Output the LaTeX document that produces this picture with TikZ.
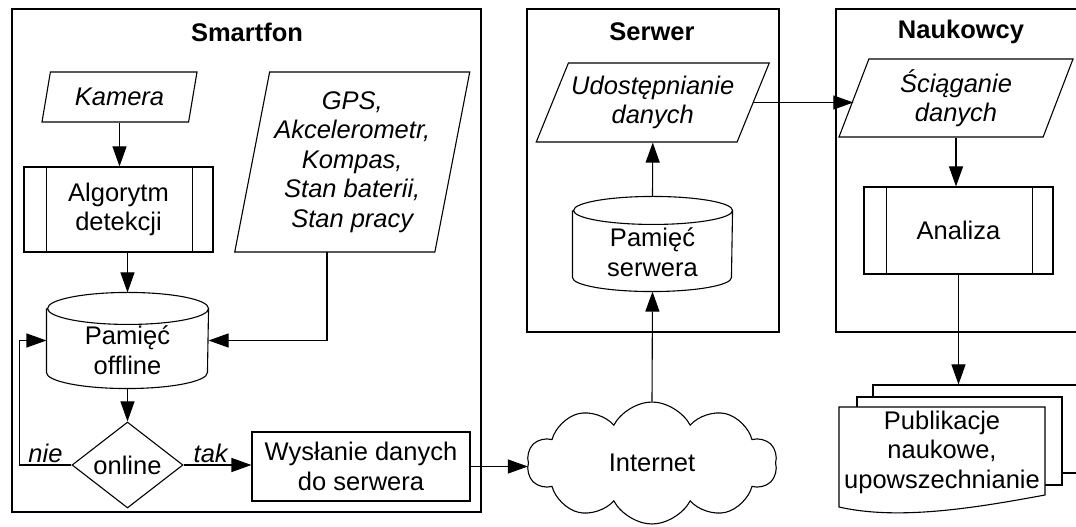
\documentclass[tikz,border=0pt]{standalone}
\usepackage{fontspec}
\setmainfont{Liberation Sans}
\usetikzlibrary{arrows.meta,shapes.geometric,shapes.symbols,calc}
\tikzset{
    frame/.style =  {draw=black,
                    line width=1.1pt},
    title/.style =  {font=\bfseries,
                    text=black},
    io/.style =     {trapezium,
                    trapezium stretches body,
                    fill=white,
                    draw=black,
                    text=black,
                    font=\itshape,
                    align=center,
                    inner sep=1pt},
    proc/.style =   {rectangle,
                    fill=white,
                    draw=black,
                    text=black,
                    align=center},
    store/.style =  {rectangle,
                    inner sep=0pt},
    decide/.style = {diamond,
                    aspect=1.3,
                    fill=white,
                    draw=black,
                    inner sep=0pt,
                    minimum width=111pt,
                    minimum height=86pt},
    net/.style =    {cloud,
                    cloud puffs=10,
                    cloud puff arc=125,
                    aspect=2,
                    fill=white,
                    draw=black,
                    inner sep=0pt,
                    minimum width=250pt,
                    minimum height=122pt},
    doc/.style =    {rectangle,
                    fill=white,
                    draw=black},
    lbl/.style =    {font=\itshape,
                    inner sep=2pt},
    >={Triangle[length=20pt,width=14pt]}}

\begin{document}
\fontsize{25.5pt}{29.5pt}\selectfont
\begin{tikzpicture}[x=1pt, y=1pt, line width=1.1pt]
    \useasboundingbox (0,0) rectangle (1076,527);
    \clip (0,0) rectangle (1076,527);
    % ramki
    \draw[frame] (12,15) rectangle (481,518);
    \draw[frame] (527,195) rectangle (779,518);
    \draw[frame] (836,195) rectangle (1095,518);
    \node[title]    (tsmart) at (247,495)       {Smartfon};
    \node[title]    (tserw)  at (652,495)       {Serwer};
    \node[title]    (tnauk)  at (961,495)       {Naukowcy};
    % smartfon
    \node[io, trapezium left angle=67, trapezium right angle=113,
          minimum width=155pt, minimum height=50pt]     (kam) at (119.5,430)  {Kamera};
    \node[proc, minimum width=189pt, minimum height=85pt] (alg) at (118.5,317.5) {Algorytm\\detekcji};
    \draw ([xshift=23pt]alg.north west) -- ([xshift=23pt]alg.south west);
    \draw ([xshift=-21pt]alg.north east) -- ([xshift=-21pt]alg.south east);
    \node[io, trapezium left angle=76.3, trapezium right angle=103.7,
          minimum width=235pt, minimum height=180pt]    (gps) at (352.25,365)  {GPS,\\Akcelerometr,\\Kompas,\\Stan baterii,\\Stan pracy};
    \node[store, minimum width=161pt, minimum height=95pt] (mem) at (127.5,186.5) {};
    \draw ([yshift=-16pt]mem.north west) -- ([yshift=16pt]mem.south west)
        arc[start angle=180, end angle=360, x radius=80.5pt, y radius=16pt]
        -- ([yshift=-16pt]mem.north east)
        arc[start angle=0, end angle=180, x radius=80.5pt, y radius=16pt]
        arc[start angle=180, end angle=360, x radius=80.5pt, y radius=16pt];
    \node[align=center] (memtxt) at (127.5,177) {Pamięć\\offline};
    \node[decide]   (online) at (127.5,62)      {online};
    \node[proc, minimum width=218pt, minimum height=69pt] (wys) at (361,60.5) {Wysłanie danych\\do serwera};
    \coordinate (gpsout) at (327,275);
    % serwer
    \node[net]      (net) at (652,64)           {Internet};
    \node[store, minimum width=159pt, minimum height=94pt] (sm) at (652.5,283) {};
    \draw ([yshift=-14pt]sm.north west) -- ([yshift=14pt]sm.south west)
        arc[start angle=180, end angle=360, x radius=79.5pt, y radius=14pt]
        -- ([yshift=-14pt]sm.north east)
        arc[start angle=0, end angle=180, x radius=79.5pt, y radius=14pt]
        arc[start angle=180, end angle=360, x radius=79.5pt, y radius=14pt];
    \node[align=center] (smtxt) at (652.5,275)  {Pamięć\\serwera};
    \node[io, trapezium left angle=59.8, trapezium right angle=120.2,
          minimum width=233pt, minimum height=79pt]     (udo) at (652.75,424.5) {Udostępnianie\\danych};
    % naukowcy
    \node[io, trapezium left angle=63.4, trapezium right angle=116.6,
          minimum width=234pt, minimum height=78pt]     (scia) at (956,429)   {Ściąganie\\danych};
    \node[proc, minimum width=189pt, minimum height=87pt] (ana) at (958.5,296.5) {Analiza};
    \draw ([xshift=23pt]ana.north west) -- ([xshift=23pt]ana.south west);
    \draw ([xshift=-21pt]ana.north east) -- ([xshift=-21pt]ana.south east);
    \node[doc, minimum width=206pt, minimum height=88pt] (pubc) at (976,98)   {};
    \node[doc, minimum width=205pt, minimum height=88pt] (pubb) at (959.5,86) {};
    \draw[fill=white] (839,120) -- (1045,120) -- (1045,32)
        .. controls (980,20) and (900,6) .. (839,20) -- cycle;
    \node[align=center] (pub) at (942,75)       {Publikacje\\naukowe,\\upowszechnianie};
    % strzalki
    \draw[->] (kam.south) -- (kam.south |- alg.north);
    \draw[->] (alg.south -| mem.north) -- (mem.north);
    \draw[->] (gpsout) |- (mem.east);
    \draw[->] (mem.south) -- (online.north);
    \draw[->] (online.west) -- node[lbl, above] {nie} ++(-52,0) |- (mem.west);
    \draw[->] (online.east) -- node[lbl, above, pos=0.4] {tak} (online.east -| wys.west);
    \draw[->] (wys.east) -- (wys.east -| net.west);
    \draw[->] (net.north) -- (sm.south);
    \draw[->] (sm.north) -- (udo.south);
    \draw[->] (udo.east) -- (udo.east -| scia.west);
    \draw[->] (scia.south) -- (scia.south |- ana.north);
    \draw[->] (ana.south) -- (ana.south |- pubc.north);
\end{tikzpicture}
\end{document}
